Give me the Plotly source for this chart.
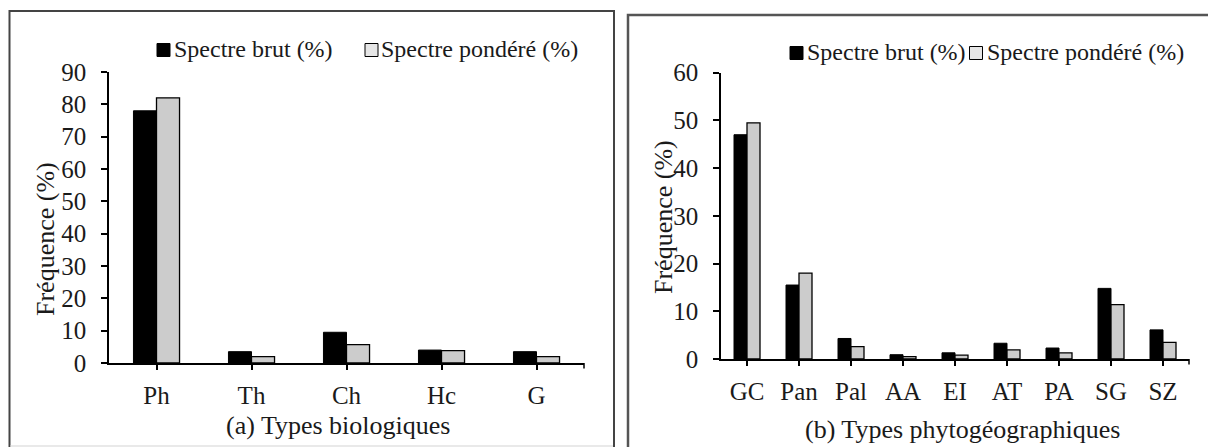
import plotly.graph_objects as go

# ---- data ----
bio_types = ["Ph", "Th", "Ch", "Hc", "G"]
bio_brut = [78.0, 3.5, 9.5, 4.0, 3.5]
bio_pondere = [82.0, 2.0, 5.7, 3.8, 2.0]

phyto_types = ["GC", "Pan", "Pal", "AA", "EI", "AT", "PA", "SG", "SZ"]
phyto_brut = [47.0, 15.5, 4.3, 0.9, 1.3, 3.3, 2.3, 14.8, 6.1]
phyto_pondere = [49.5, 18.0, 2.6, 0.5, 0.8, 1.9, 1.3, 11.4, 3.5]

left_ticks = list(range(0, 91, 10))
right_ticks = list(range(0, 61, 10))

series_names = ["Spectre brut (%)", "Spectre pondéré (%)"]
ytitle = "Fréquence (%)"
xtitle_a = "(a) Types biologiques"
xtitle_b = "(b) Types phytogéographiques"

# ---- style ----
W, H = 1208, 447
FONT = "Liberation Serif, Times New Roman, serif"
TXT = "#1a1a1a"
FS = 25
BLACK = "#000000"
GRAY = "#cccccc"


def px(x):
    return x / W


def py(y):
    return 1 - y / H


fig = go.Figure()

fig.add_trace(go.Bar(x=bio_types, y=bio_brut, name=series_names[0],
                     marker=dict(color=BLACK, line=dict(color=BLACK, width=1)),
                     xaxis="x", yaxis="y", showlegend=False))
fig.add_trace(go.Bar(x=bio_types, y=bio_pondere, name=series_names[1],
                     marker=dict(color=GRAY, line=dict(color=BLACK, width=1.3)),
                     xaxis="x", yaxis="y", showlegend=False))
fig.add_trace(go.Bar(x=phyto_types, y=phyto_brut, name=series_names[0],
                     marker=dict(color=BLACK, line=dict(color=BLACK, width=1)),
                     width=0.25, offset=-0.25,
                     xaxis="x2", yaxis="y2", showlegend=False))
fig.add_trace(go.Bar(x=phyto_types, y=phyto_pondere, name=series_names[1],
                     marker=dict(color=GRAY, line=dict(color=BLACK, width=1.3)),
                     width=0.25, offset=0.0,
                     xaxis="x2", yaxis="y2", showlegend=False))

axis_common = dict(showline=True, linecolor=BLACK, linewidth=1.5, showgrid=False,
                   zeroline=False, ticks="outside", tickcolor=BLACK, tickwidth=1.5,
                   automargin=False,
                   tickfont=dict(family=FONT, size=FS, color=TXT))

fig.update_layout(
    width=W, height=H, autosize=False,
    font=dict(family=FONT, size=FS, color=TXT),
    margin=dict(l=0, r=0, t=0, b=0, pad=0),
    paper_bgcolor="white", plot_bgcolor="white",
    barmode="group", bargap=0.515, bargroupgap=0,
    xaxis=dict(domain=[px(109), px(584)], anchor="y", ticklen=5,
               ticklabelstandoff=4, **axis_common),
    yaxis=dict(domain=[py(363), py(72)], anchor="x", range=[0, 90],
               tickvals=left_ticks, ticklen=6, ticklabelstandoff=10, **axis_common),
    xaxis2=dict(domain=[px(721), px(1189)], anchor="y2", ticklen=5,
                ticklabelstandoff=4, **axis_common),
    yaxis2=dict(domain=[py(359), py(72.7)], anchor="x2", range=[0, 60],
                tickvals=right_ticks, ticklen=6, ticklabelstandoff=10, **axis_common),
)

shapes = []
# panel frames (bottom edges run off the picture)
shapes.append(dict(type="rect", xref="paper", yref="paper",
                   x0=px(9.5), x1=px(614), y0=py(470), y1=py(11),
                   line=dict(color="#444444", width=2), fillcolor="rgba(0,0,0,0)",
                   layer="below"))
shapes.append(dict(type="line", xref="paper", yref="paper",
                   x0=px(10.5), x1=px(613), y0=py(446), y1=py(446),
                   line=dict(color="#e2e2e2", width=1.5), layer="below"))
shapes.append(dict(type="rect", xref="paper", yref="paper",
                   x0=px(628), x1=px(1215), y0=py(470), y1=py(15),
                   line=dict(color="#555555", width=2.5), fillcolor="rgba(0,0,0,0)",
                   layer="below"))

# closing tick at the right end of each category axis
shapes.append(dict(type="line", xref="x domain", yref="paper",
                   x0=1, x1=1, y0=py(363), y1=py(368.5),
                   line=dict(color=BLACK, width=1.5)))
shapes.append(dict(type="line", xref="x2 domain", yref="paper",
                   x0=1, x1=1, y0=py(359), y1=py(364.5),
                   line=dict(color=BLACK, width=1.5)))


def swatch(x0, yc, fill):
    s = 13
    return dict(type="rect", xref="paper", yref="paper",
                x0=px(x0), x1=px(x0 + s), y0=py(yc + s / 2), y1=py(yc - s / 2),
                line=dict(color=BLACK, width=1), fillcolor=fill)


shapes.append(swatch(157, 50, BLACK))
shapes.append(swatch(365, 50, "#e6e6e6"))
shapes.append(swatch(790, 53, BLACK))
shapes.append(swatch(969.5, 53, "#e6e6e6"))

annotations = []


def text(x, y, t, xanchor="left", angle=0, size=FS):
    annotations.append(dict(xref="paper", yref="paper", x=px(x), y=py(y), text=t,
                            showarrow=False, xanchor=xanchor, yanchor="middle",
                            textangle=angle,
                            font=dict(family=FONT, size=size, color=TXT)))


text(172, 49, series_names[0], size=24)
text(379, 49, series_names[1], size=24)
text(805, 52, series_names[0], size=24)
text(984.5, 52, series_names[1], size=24)

text(45, 239, ytitle, xanchor="center", angle=-90, size=26)
text(663, 217, ytitle, xanchor="center", angle=-90, size=26)
text(338, 425, xtitle_a, xanchor="center", size=26)
text(962, 429, xtitle_b, xanchor="center", size=26)

fig.update_layout(shapes=shapes, annotations=annotations)

post = (
    "document.documentElement.style.margin='0';"
    "document.documentElement.style.overflow='hidden';"
    "document.body.style.margin='0';"
    "document.body.style.overflow='hidden';"
)

fig.write_html("out.html", config={"displayModeBar": False}, post_script=post)
